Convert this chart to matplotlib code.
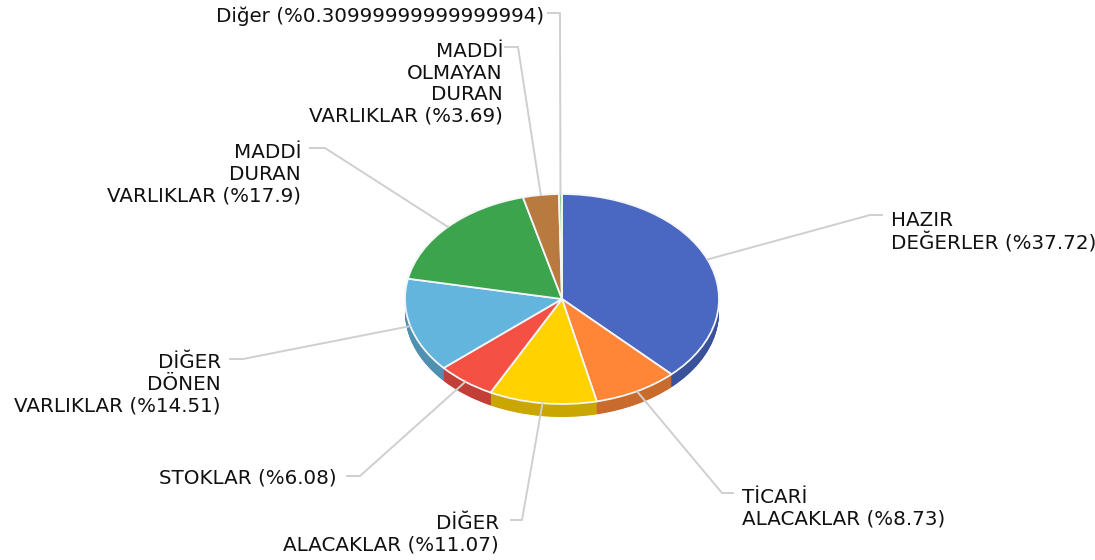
import numpy as np
import matplotlib
matplotlib.use("Agg")
import matplotlib.pyplot as plt

# degerler
names = ["HAZIR\nDEĞERLER (%37.72)", "TİCARİ\nALACAKLAR (%8.73)", "DİĞER\nALACAKLAR (%11.07)",
         "STOKLAR (%6.08)", "DİĞER\nDÖNEN\nVARLIKLAR (%14.51)", "MADDİ\nDURAN\nVARLIKLAR (%17.9)",
         "MADDİ\nOLMAYAN\nDURAN\nVARLIKLAR (%3.69)", "Diğer (%0.30999999999999994)"]
values = [37.72, 8.73, 11.07, 6.08, 14.51, 17.9, 3.69, 0.31]
colors = ["#4a67c1", "#ff8637", "#ffd200", "#f45044", "#64b5de", "#3ca44c", "#b97a3f", "#8fc79a"]
dark = ["#3a5299", "#c96b2c", "#caa600", "#c13f36", "#4f8fb0", "#2f823c", "#925f31", "#71a07a"]

# yerlesim (piksel)
W, H = 1095, 560
cx, cy = 562, 299
rx, ry = 157, 105
depth = 13
# dirsek noktasi, cizgi sonu, yazi x, yazi ust y, hizalama
elbows = [(870, 215), (722, 493), (522, 520), (360, 476), (243, 359), (325, 148), (518, 47), (560, 13)]
ends = [882, 733, 511, 347, 230, 310, 505, 548]
text_x = [891, 742, 499, 337, 221, 301, 503, 544]
text_y = [211, 488, 514, 468, 353, 143, 42, 7]
aligns = ["left", "left", "right", "right", "right", "right", "right", "right"]

fig = plt.figure(figsize=(W / 100, H / 100), dpi=100)
ax = fig.add_axes([0, 0, 1, 1])
sy = rx / ry
base = (H - cy) * sy

# yan yuzey: koyu dilimler ust uste
for d in np.arange(depth, 0, -0.5):
    ax.pie(values, colors=dark, radius=rx, center=(cx, base - d * sy), startangle=90, counterclock=False,
           wedgeprops=dict(linewidth=0))
ax.pie(values, colors=colors, radius=rx, center=(cx, base), startangle=90, counterclock=False,
       wedgeprops=dict(edgecolor="#f4f6f8", linewidth=1.3))
ax.set_aspect("auto")
ax.set_xlim(0, W)
ax.set_ylim(0, H * sy)
ax.axis("off")

ov = fig.add_axes([0, 0, 1, 1], facecolor="none", zorder=2)
ov.set_xlim(0, W)
ov.set_ylim(H, 0)
ov.axis("off")

total = sum(values)
start = 0
for i, v in enumerate(values):
    ang = (start + v / 2) / total * 2 * np.pi
    start += v
    px = cx + rx * np.sin(ang)
    py = cy - ry * np.cos(ang)
    ov.plot([px, elbows[i][0], ends[i]], [py, elbows[i][1], elbows[i][1]], color="#cfcfcf", lw=1.4)
    ov.text(text_x[i], text_y[i], names[i], ha=aligns[i], va="top", fontsize=14.3, color="#111111",
            family="DejaVu Sans", linespacing=1.17, multialignment=aligns[i])

fig.savefig("out.png", dpi=100)
